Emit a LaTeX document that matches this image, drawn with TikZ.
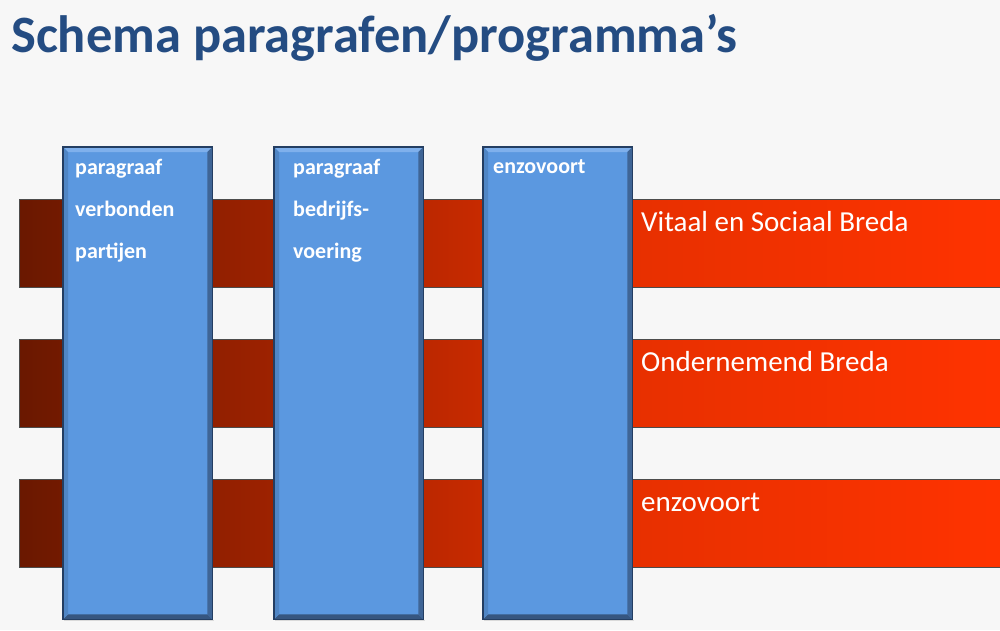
\documentclass[tikz,border=0pt]{standalone}
\usepackage{fontspec}
\setmainfont{Carlito}
\definecolor{titleblue}{HTML}{244C82}
\definecolor{barL}{HTML}{6A1800}
\definecolor{barM}{HTML}{E83000}
\definecolor{barR}{HTML}{FF3300}
\definecolor{boxblue}{HTML}{5B98E0}
\definecolor{boxedge}{HTML}{243E62}
\definecolor{bevdark}{HTML}{3F6596}
\definecolor{bevlight}{HTML}{7FB0EC}
\definecolor{bggray}{HTML}{F7F7F7}
\pgfdeclarehorizontalshading{barshade}{100bp}{color(0bp)=(barL); color(25bp)=(barL); color(56.5bp)=(barM); color(75bp)=(barR); color(100bp)=(barR)}
\begin{document}
\begin{tikzpicture}[x=1pt,y=-1pt,
  bar/.style={draw=black!70, line width=0.7pt, shading=barshade,
    minimum width=990pt, minimum height=88pt, anchor=north west, inner sep=0pt},
  pbox/.style={fill=boxblue, minimum width=149pt, minimum height=472pt,
    anchor=north west, inner sep=0pt},
  boxtext/.style={text=white, font=\fontsize{22}{42}\selectfont\bfseries,
    align=left, anchor=north west, inner sep=0pt},
  barlabel/.style={text=white, font=\fontsize{29}{34}\selectfont,
    anchor=west, inner sep=0pt},
  titletext/.style={text=titleblue, font=\fontsize{52.5}{60}\selectfont\bfseries,
    anchor=base west, inner sep=0pt}]
\useasboundingbox (0,0) rectangle (1000,630);
\fill[bggray] (0,0) rectangle (1000,630);
\node[titletext] (title) at (11,52) {Schema paragrafen/programma’s};
% bars
\node[bar] (bar1) at (19,199) {};
\node[bar] (bar2) at (19,339) {};
\node[bar] (bar3) at (19,479) {};
% boxes
\node[pbox] (box1) at (63,147) {};
\node[pbox] (box2) at (274,147) {};
\node[pbox] (box3) at (483,147) {};
\foreach \b in {box1,box2,box3}{
  \fill[black!25, opacity=0.5] ([xshift=1pt,yshift=-2pt]\b.south west) rectangle ([xshift=2pt,yshift=-1pt]\b.south east);
  \fill[bevlight] (\b.north west) -- (\b.north east) -- ([xshift=-5pt,yshift=-5pt]\b.north east) -- ([xshift=5pt,yshift=-5pt]\b.north west) -- cycle;
  \fill[bevdark] (\b.north east) -- (\b.south east) -- ([xshift=-5pt,yshift=5pt]\b.south east) -- ([xshift=-5pt,yshift=-5pt]\b.north east) -- cycle;
  \fill[bevdark!85!black] (\b.south west) -- (\b.south east) -- ([xshift=-5pt,yshift=5pt]\b.south east) -- ([xshift=5pt,yshift=5pt]\b.south west) -- cycle;
  \fill[boxblue!88!black] (\b.north west) -- (\b.south west) -- ([xshift=5pt,yshift=5pt]\b.south west) -- ([xshift=5pt,yshift=-5pt]\b.north west) -- cycle;
  \draw[boxedge, line width=1.1pt] (\b.north west) rectangle (\b.south east);
}
% box texts
\node[boxtext] (t1) at (75,159) {paragraaf\\verbonden\\partijen};
\node[boxtext] (t2) at (293,159) {paragraaf\\bedrijfs-\\voering};
\node[boxtext] (t3) at (493,159) {enzovoort};
% bar labels
\node[barlabel] (l1) at (641,222) {Vitaal en Sociaal Breda};
\node[barlabel] (l2) at (641,362) {Ondernemend Breda};
\node[barlabel] (l3) at (641,502) {enzovoort};
\end{tikzpicture}
\end{document}
